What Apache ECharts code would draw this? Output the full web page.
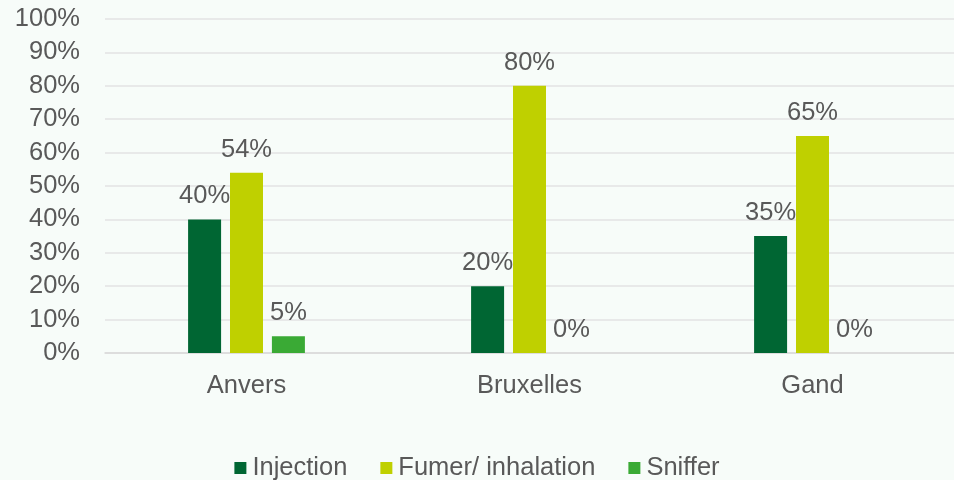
<!DOCTYPE html>
<html>
<head>
<meta charset="utf-8">
<script src="https://cdn.jsdelivr.net/npm/echarts@6/dist/echarts.min.js"></script>
<style>
html,body{margin:0;padding:0;background:#f7fcf9;}
#c{width:954px;height:480px;}
</style>
</head>
<body>
<div id="c"></div>
<script>
const categories = ['Anvers', 'Bruxelles', 'Gand'];
const seriesNames = ['Injection', 'Fumer/ inhalation', 'Sniffer'];
const injection = [40, 20, 35];
const fumer = [54, 80, 65];
const sniffer = [5, 0, 0];
const colors = ['#006633', '#bfd000', '#3aaa35'];

const chart = echarts.init(document.getElementById('c'), null, {renderer: 'canvas'});
const font = 'Liberation Sans, Arial, sans-serif';
const textColor = '#595959';
const fs = 25.5;
function mk(name, data, color) {
  return {
    name: name, type: 'bar', data: data,
    barWidth: 33, barGap: '27%',
    itemStyle: {color: color},
    label: {show: true, position: 'top', distance: 10, formatter: '{c}%',
      color: textColor, fontSize: fs, fontFamily: font}
  };
}
chart.setOption({
  backgroundColor: '#f7fcf9',
  animation: false,
  grid: {left: 105, right: 0, top: 19, bottom: 127},
  legend: {
    top: 455, left: 'center', itemWidth: 12, itemHeight: 12, itemGap: 33,
    icon: 'rect', padding: 0,
    textStyle: {color: textColor, fontSize: fs, fontFamily: font, padding: [0,0,0,1]},
    data: seriesNames
  },
  xAxis: {
    type: 'category', data: categories,
    axisLine: {lineStyle: {color: '#d9d9d9', width: 1.5}},
    axisTick: {show: false},
    axisLabel: {color: textColor, fontSize: fs, fontFamily: font, margin: 20}
  },
  yAxis: {
    type: 'value', min: 0, max: 100, interval: 10,
    axisLine: {show: false}, axisTick: {show: false},
    axisLabel: {formatter: '{value}%', color: textColor, fontSize: fs, fontFamily: font, margin: 25},
    splitLine: {lineStyle: {color: '#e3e3e3', width: 1.5}}
  },
  series: [
    mk(seriesNames[0], injection, colors[0]),
    mk(seriesNames[1], fumer, colors[1]),
    mk(seriesNames[2], sniffer, colors[2])
  ]
});
</script>
</body>
</html>
